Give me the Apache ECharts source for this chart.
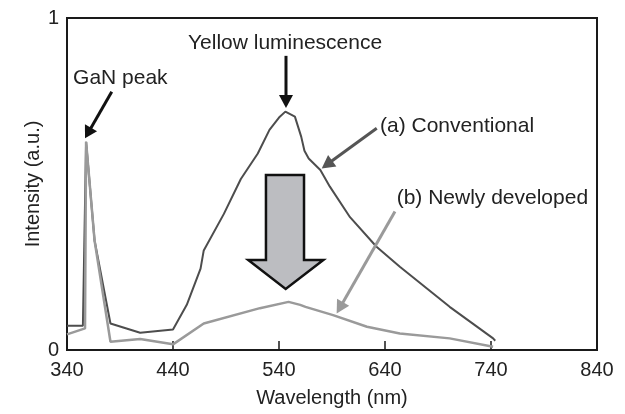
<!DOCTYPE html>
<html>
<head>
<meta charset="utf-8">
<script src="https://cdn.jsdelivr.net/npm/echarts@6/dist/echarts.min.js"></script>
<style>
  html, body { margin: 0; padding: 0; background: #fff; }
  #chart { width: 625px; height: 414px; }
</style>
</head>
<body>
<div id="chart"></div>
<script>
// Photoluminescence spectra: conventional vs newly developed structure
const xTicks = [340, 440, 540, 640, 740, 840];
const yTicks = [0, 1];

const convWavelength = [340, 355, 358, 366, 381, 409, 440, 453, 466, 469, 488, 504, 520, 531, 540, 546, 555, 561, 564, 568, 579, 588, 607, 632, 654, 701, 742, 744];
const convIntensity  = [0.073, 0.073, 0.627, 0.33, 0.08, 0.052, 0.062, 0.136, 0.245, 0.30, 0.41, 0.515, 0.592, 0.663, 0.70, 0.718, 0.703, 0.642, 0.60, 0.577, 0.542, 0.492, 0.40, 0.311, 0.251, 0.13, 0.035, 0.028];

const newWavelength = [340, 357, 358, 366, 381, 409, 440, 469, 522, 549, 560, 565, 591, 623, 654, 701, 742];
const newIntensity  = [0.047, 0.065, 0.627, 0.33, 0.025, 0.033, 0.017, 0.08, 0.126, 0.145, 0.136, 0.13, 0.105, 0.07, 0.05, 0.035, 0.01];

// Annotation anchors in data units [wavelength, intensity]
const gaNText = [345.7, 0.819];
const gaNArrow = [[382.2, 0.778], [357, 0.638]];
const yellowText = [545.7, 0.925];
const yellowArrow = [[546.6, 0.886], [546.6, 0.729]];
const convText = [635.3, 0.673];
const convArrow = [[632.2, 0.668], [580.3, 0.547]];
const newText = [651, 0.458];
const newArrow = [[649.4, 0.417], [594.4, 0.11]];
// Big downward block arrow: body left/right, top, shoulder, wing left/right, tip
const dropArrow = { bodyL: 527.7, bodyR: 563.6, top: 0.527, shoulder: 0.271, wingL: 511, wingR: 581.8, tipX: 546.3, tipY: 0.184 };

const FONT = 'Liberation Sans, Arial, Helvetica, sans-serif';
const DARK = '#4d4d4d';
const LIGHT = '#9a9a9a';

function zip(xs, ys) { return xs.map((x, i) => [x, ys[i]]); }

const chart = echarts.init(document.getElementById('chart'), null, { renderer: 'canvas' });

chart.setOption({
  animation: false,
  backgroundColor: '#fff',
  grid: {
    left: 67, right: 28, top: 18, bottom: 64,
    show: true, borderColor: '#1a1a1a', borderWidth: 2, backgroundColor: 'transparent'
  },
  xAxis: {
    type: 'value', min: xTicks[0], max: xTicks[xTicks.length - 1], interval: 100,
    name: 'Wavelength (nm)', nameLocation: 'middle', nameGap: 38,
    nameTextStyle: { fontFamily: FONT, fontSize: 20, color: '#222' },
    axisLine: { show: true, lineStyle: { color: '#1a1a1a', width: 2 } },
    axisTick: { show: true, inside: true, length: 9, lineStyle: { color: '#1a1a1a', width: 1.5 } },
    axisLabel: { fontFamily: FONT, fontSize: 20, color: '#222', margin: 10 },
    splitLine: { show: false }
  },
  yAxis: {
    type: 'value', min: yTicks[0], max: yTicks[yTicks.length - 1], interval: 1,
    name: 'Intensity (a.u.)', nameLocation: 'middle', nameGap: 24, nameMoveOverlap: false,
    nameTextStyle: { fontFamily: FONT, fontSize: 20, color: '#222' },
    axisLine: { show: true, lineStyle: { color: '#1a1a1a', width: 2 } },
    axisTick: { show: false },
    axisLabel: { fontFamily: FONT, fontSize: 20, color: '#222', margin: 8 },
    splitLine: { show: false }
  },
  series: [
    {
      name: '(a) Conventional', type: 'line', data: zip(convWavelength, convIntensity),
      showSymbol: false, lineStyle: { color: DARK, width: 2 }, z: 2
    },
    {
      name: '(b) Newly developed', type: 'line', data: zip(newWavelength, newIntensity),
      showSymbol: false, lineStyle: { color: LIGHT, width: 2.5 }, z: 3
    }
  ]
});

function px(p) { return chart.convertToPixel({ gridIndex: 0 }, p); }

function arrow(from, to, color, width, headLen, headHalf) {
  const a = px(from), b = px(to);
  const dx = b[0] - a[0], dy = b[1] - a[1];
  const len = Math.hypot(dx, dy);
  const ux = dx / len, uy = dy / len;
  const bx = b[0] - ux * headLen, by = b[1] - uy * headLen;
  return [
    { type: 'line', shape: { x1: a[0], y1: a[1], x2: bx + ux, y2: by + uy }, style: { stroke: color, lineWidth: width }, z: 10 },
    { type: 'polygon', shape: { points: [[b[0], b[1]], [bx - uy * headHalf, by + ux * headHalf], [bx + uy * headHalf, by - ux * headHalf]] }, style: { fill: color }, z: 10 }
  ];
}

function label(pos, text, align) {
  const p = px(pos);
  return { type: 'text', x: p[0], y: p[1], style: { text: text, fontFamily: FONT, fontSize: 21, fill: '#222', align: align, verticalAlign: 'middle' }, z: 10 };
}

const d = dropArrow;
const block = {
  type: 'polygon',
  shape: { points: [
    px([d.bodyL, d.top]), px([d.bodyR, d.top]), px([d.bodyR, d.shoulder]), px([d.wingR, d.shoulder]),
    px([d.tipX, d.tipY]), px([d.wingL, d.shoulder]), px([d.bodyL, d.shoulder])
  ] },
  style: { fill: '#bcbdc1', stroke: '#111', lineWidth: 2.5, lineJoin: 'miter' },
  z: 9
};

chart.setOption({
  graphic: [
    block,
    ...arrow(gaNArrow[0], gaNArrow[1], '#111', 3, 12, 7),
    ...arrow(yellowArrow[0], yellowArrow[1], '#111', 3, 13, 7),
    ...arrow(convArrow[0], convArrow[1], '#555', 3, 13, 7),
    ...arrow(newArrow[0], newArrow[1], '#9a9a9a', 3, 13, 7),
    label(gaNText, 'GaN peak', 'left'),
    label(yellowText, 'Yellow luminescence', 'center'),
    label(convText, '(a) Conventional', 'left'),
    label(newText, '(b) Newly developed', 'left')
  ]
});
</script>
</body>
</html>
